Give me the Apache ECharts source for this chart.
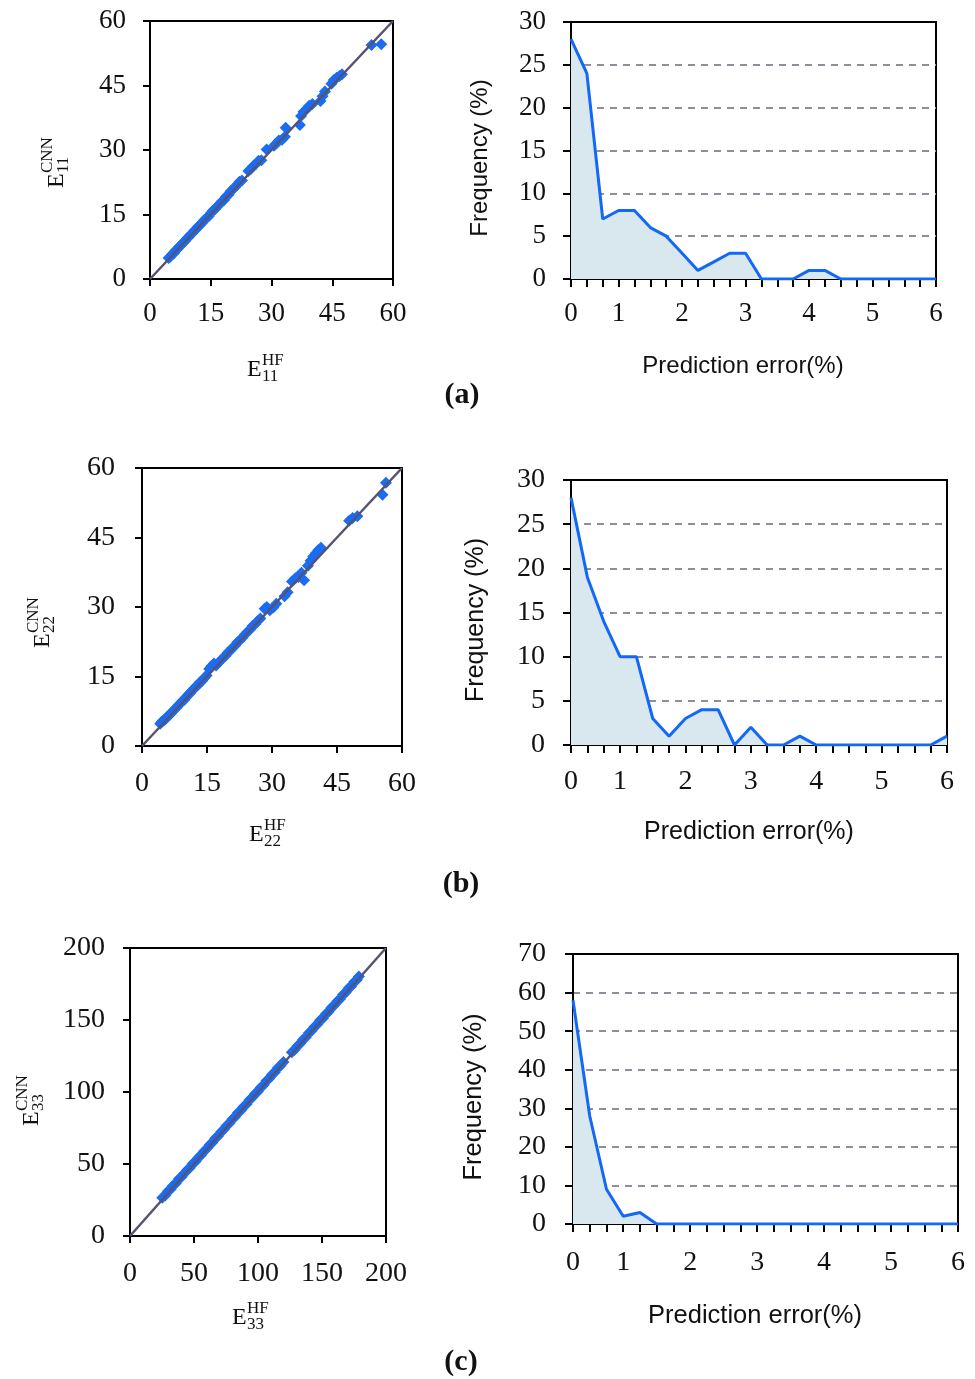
<!DOCTYPE html>
<html><head><meta charset="utf-8">
<script src="https://cdn.jsdelivr.net/npm/echarts@6/dist/echarts.min.js"></script>
<style>html,body{margin:0;padding:0;background:#fff}#c{width:975px;height:1379px}</style>
</head><body><div id="c"></div>
<script>
// ---------- data ----------
const errorBins = ['0','1','2','3','4','5','6','7','8','9','10','11','12','13','14','15','16','17','18','19','20','21','22','23'];
const errorTickLabels = ['0','','','1','','','','2','','','','3','','','','4','','','','5','','','','6'];
const freqA = [28,24,7,8,8,6,5,3,1,2,3,3,0,0,0,1,1,0,0,0,0,0,0,0];
const freqB = [28,19,14,10,10,3,1,3,4,4,0,2,0,0,1,0,0,0,0,0,0,0,0,1];
const freqC = [58,28,9,2,3,0,0,0,0,0,0,0,0,0,0,0,0,0,0,0,0,0,0,0];

const scatterA = [[4.6,4.9],[5.0,5.2],[5.4,5.7],[5.9,6.0],[6.3,6.6],[6.8,7.0],[7.2,7.5],[7.7,7.9],[8.1,8.4],[8.6,8.8],[9.1,9.4],[9.5,9.7],[10.0,10.3],[10.5,10.7],[11.0,11.3],[11.4,11.6],[11.9,12.2],[12.4,12.6],[12.9,13.1],[13.4,13.7],[13.9,14.1],[14.5,14.6],[15.0,15.3],[15.5,15.9],[16.1,16.3],[16.6,16.9],[17.2,17.4],[17.7,18.0],[18.3,18.4],[18.8,19.2],[19.4,19.6],[19.9,20.4],[20.5,20.9],[21.0,21.4],[21.6,22.0],[22.1,22.6],[22.7,22.9],[24.3,25.1],[24.9,25.6],[25.5,26.3],[26.2,26.8],[26.8,27.5],[27.5,27.6],[28.8,30.1],[30.6,31.0],[31.2,31.5],[31.8,32.2],[32.6,32.4],[33.3,33.1],[33.5,35.2],[37.0,35.8],[37.3,37.9],[37.9,38.9],[38.6,39.4],[39.3,40.3],[40.1,40.7],[42.1,41.4],[42.6,42.5],[43.2,43.6],[44.8,45.4],[45.4,46.3],[46.1,46.8],[46.8,47.2],[47.4,47.6],[54.7,54.4],[57.1,54.6]];
const scatterB = [[4.2,4.8],[4.6,5.3],[5.0,5.5],[5.4,5.8],[5.8,6.3],[6.2,6.6],[6.7,7.0],[7.1,7.5],[7.5,7.9],[8.0,8.3],[8.4,8.8],[8.9,9.2],[9.3,9.7],[9.8,10.0],[10.2,10.6],[10.7,11.1],[11.1,11.4],[11.6,12.0],[12.0,12.4],[12.5,12.9],[13.0,13.2],[13.4,13.8],[13.9,14.1],[14.4,14.7],[14.9,15.2],[15.5,16.6],[16.0,17.2],[16.6,17.8],[17.1,17.4],[17.6,17.9],[18.2,18.5],[18.7,19.0],[19.3,19.5],[19.8,20.2],[20.4,20.6],[20.9,21.2],[21.5,21.7],[22.0,22.4],[22.6,22.8],[23.2,23.4],[23.7,24.0],[24.3,24.6],[24.9,25.1],[25.5,25.9],[26.1,26.3],[26.7,27.0],[27.3,27.5],[28.3,29.6],[28.8,30.0],[29.5,29.3],[30.3,29.9],[31.0,30.7],[32.9,32.3],[33.6,33.2],[34.6,35.5],[35.4,36.2],[36.1,36.5],[36.8,37.4],[37.4,35.8],[38.3,38.9],[38.9,40.0],[39.5,40.9],[40.1,41.6],[40.7,42.3],[41.3,42.8],[47.8,48.6],[48.6,49.2],[49.7,49.6],[55.5,54.2],[56.3,56.8]];
const scatterC = [[25.2,26.5],[27.5,28.1],[29.6,31.0],[31.8,32.4],[33.7,35.1],[35.9,36.7],[38.1,39.5],[40.4,41.2],[42.5,43.6],[44.7,45.9],[46.8,47.4],[48.9,50.1],[51.2,51.8],[53.4,54.5],[55.6,56.2],[57.8,58.9],[60.1,60.7],[62.3,63.4],[64.4,65.0],[66.6,67.8],[68.9,69.5],[71.1,72.2],[73.3,73.9],[75.4,76.6],[77.7,78.3],[79.9,81.1],[82.2,82.8],[84.3,85.6],[86.6,87.2],[88.8,90.0],[91.0,91.5],[93.3,94.5],[95.5,96.1],[97.7,98.8],[99.9,100.4],[102.1,103.2],[104.4,104.9],[106.6,107.8],[108.8,109.3],[111.0,112.1],[113.2,113.8],[115.4,116.6],[117.6,118.2],[119.9,120.8],[126.4,127.6],[128.6,129.3],[130.8,132.0],[133.0,133.6],[135.2,136.5],[137.4,138.0],[139.7,140.9],[141.9,142.5],[144.1,145.3],[146.3,146.9],[148.5,149.8],[150.8,151.3],[153.0,154.2],[155.2,155.8],[157.4,158.7],[159.6,160.2],[161.9,163.1],[164.1,164.6],[166.3,167.5],[168.5,169.1],[170.7,172.0],[172.9,173.5],[175.1,176.4],[177.3,177.9],[178.8,180.2]];

const diagonalA = [[0,0],[60,60]];
const diagonalB = [[0,0],[60,60]];
const diagonalC = [[0,0],[200,200]];

const scatterMaxA = 60, scatterMaxB = 60, scatterMaxC = 200;
const scatterStepA = 15, scatterStepB = 15, scatterStepC = 50;
const freqMaxA = 30, freqMaxB = 30, freqMaxC = 70;
const freqStepA = 5, freqStepB = 5, freqStepC = 10;

const panelLetters = ['(a)','(b)','(c)'];
const subIdx = ['11','22','33'];
const freqTitle = 'Frequency (%)';
const errTitle = 'Prediction error(%)';

// ---------- layout ----------
const SERIF = '"Liberation Serif", "Times New Roman", serif';
const SANS = '"Liberation Sans", Arial, sans-serif';
const BLACK = '#111';

const gridsL = [
  {left:150, top:21, width:243, height:258},
  {left:142, top:468, width:260, height:278},
  {left:130, top:948, width:256, height:288}
];
const gridsR = [
  {left:571, top:22, width:365, height:257},
  {left:571, top:480, width:376, height:265},
  {left:573, top:954, width:385, height:270}
];
const labelFont = [27, 28, 28];
const titleFont = [24, 25, 25.5];
const xMarginL = [21, 24, 24], yMarginL = [24, 27, 25];
const xMarginR = [21, 23, 25], yMarginR = [25, 26, 27];

const grid = [], xAxis = [], yAxis = [], series = [];
const scatters = [scatterA, scatterB, scatterC];
const diags = [diagonalA, diagonalB, diagonalC];
const sMax = [scatterMaxA, scatterMaxB, scatterMaxC];
const sStep = [scatterStepA, scatterStepB, scatterStepC];
const freqs = [freqA, freqB, freqC];
const fMax = [freqMaxA, freqMaxB, freqMaxC];
const fStep = [freqStepA, freqStepB, freqStepC];

const axisLine = {show:true, onZero:false, lineStyle:{color:'#000', width:2}};
const axisTick = {show:true, inside:false, length:8, lineStyle:{color:'#000', width:2}};
const DASH = '#8f8f9c';

for (let p = 0; p < 3; p++) {
  const gi = grid.length;
  grid.push(Object.assign({show:true, borderColor:'#000', borderWidth:2, backgroundColor:'#fff'}, gridsL[p]));
  grid.push(Object.assign({show:true, borderColor:'#000', borderWidth:2, backgroundColor:'#fff'}, gridsR[p]));
  const lab = (m) => ({fontFamily:SERIF, fontSize:labelFont[p], color:BLACK, margin:m});
  // left scatter axes
  xAxis.push({type:'value', gridIndex:gi, min:0, max:sMax[p], interval:sStep[p],
    axisLine, axisTick:Object.assign({}, axisTick, {length:7}), splitLine:{show:false},
    axisLabel:lab(xMarginL[p])});
  yAxis.push({type:'value', gridIndex:gi, min:0, max:sMax[p], interval:sStep[p],
    axisLine, axisTick:Object.assign({}, axisTick, {length:7}), splitLine:{show:false},
    axisLabel:lab(yMarginL[p])});
  // right frequency axes
  xAxis.push({type:'category', gridIndex:gi+1, data:errorBins, boundaryGap:false,
    axisLine, axisTick:Object.assign({}, axisTick, {interval:0}),
    splitLine:{show:false},
    axisLabel:Object.assign(lab(xMarginR[p]), {interval:(i)=>errorTickLabels[i] !== '', formatter:(v,i)=>errorTickLabels[i]})});
  const nLines = fMax[p] / fStep[p] + 1;
  const dashColors = [];
  for (let k = 0; k < nLines; k++) dashColors.push(k === nLines - 1 ? 'rgba(0,0,0,0)' : DASH);
  yAxis.push({type:'value', gridIndex:gi+1, min:0, max:fMax[p], interval:fStep[p],
    axisLine, axisTick,
    splitLine:{show:true, lineStyle:{color:dashColors, width:2, type:[7,6]}},
    axisLabel:lab(yMarginR[p])});

  series.push({type:'scatter', xAxisIndex:gi, yAxisIndex:gi, data:scatters[p],
    symbol:'diamond', symbolSize:12, itemStyle:{color:'#1a6cf3', opacity:1}, z:2, silent:true});
  series.push({type:'line', xAxisIndex:gi, yAxisIndex:gi, data:diags[p],
    showSymbol:false, symbol:'none', lineStyle:{color:'#575270', width:2.5}, z:3, silent:true});
  series.push({type:'line', xAxisIndex:gi+1, yAxisIndex:gi+1, data:freqs[p],
    showSymbol:false, symbol:'none', lineStyle:{color:'#1368f7', width:3},
    areaStyle:{color:'#d9e7ee', opacity:1}, z:2, silent:true});
}

// ---------- text graphics ----------
function eTitle(sub, sup, x, y, rot) {
  return {type:'group', x:x, y:y, rotation:rot, silent:true, children:[
    {type:'text', style:{text:'E', x:0, y:0, font:'24px ' + SERIF, fill:BLACK, textAlign:'left', textVerticalAlign:'middle'}},
    {type:'text', style:{text:sup, x:15, y:-9, font:'17px ' + SERIF, fill:BLACK, textAlign:'left', textVerticalAlign:'middle'}},
    {type:'text', style:{text:sub, x:15, y:7, font:'17px ' + SERIF, fill:BLACK, textAlign:'left', textVerticalAlign:'middle'}}
  ]};
}
const xTitlePos = [[247,370],[249,835],[232,1318]];
const yTitlePos = [[57,188],[43,648],[32,1126]];
const freqTitlePos = [[480,158],[476,620],[474,1097]];
const errTitlePos = [[743,366],[749,832],[755,1316]];
const letterPos = [[462,395],[461,884],[461,1362]];
const graphic = [];
for (let p = 0; p < 3; p++) {
  graphic.push(eTitle(subIdx[p], 'HF', xTitlePos[p][0], xTitlePos[p][1], 0));
  graphic.push(eTitle(subIdx[p], 'CNN', yTitlePos[p][0], yTitlePos[p][1], Math.PI/2));
  graphic.push({type:'text', x:freqTitlePos[p][0], y:freqTitlePos[p][1], rotation:Math.PI/2, silent:true,
    style:{text:freqTitle, font:titleFont[p] + 'px ' + SANS, fill:BLACK, textAlign:'center', textVerticalAlign:'middle'}});
  graphic.push({type:'text', x:errTitlePos[p][0], y:errTitlePos[p][1], silent:true,
    style:{text:errTitle, font:titleFont[p] + 'px ' + SANS, fill:BLACK, textAlign:'center', textVerticalAlign:'middle'}});
  graphic.push({type:'text', x:letterPos[p][0], y:letterPos[p][1], silent:true,
    style:{text:panelLetters[p], font:'bold 30px ' + SERIF, fill:BLACK, textAlign:'center', textVerticalAlign:'middle'}});
}

const chart = echarts.init(document.getElementById('c'), null, {renderer:'canvas'});
chart.setOption({
  backgroundColor:'#fff', animation:false,
  grid, xAxis, yAxis, series, graphic
});
</script></body></html>
